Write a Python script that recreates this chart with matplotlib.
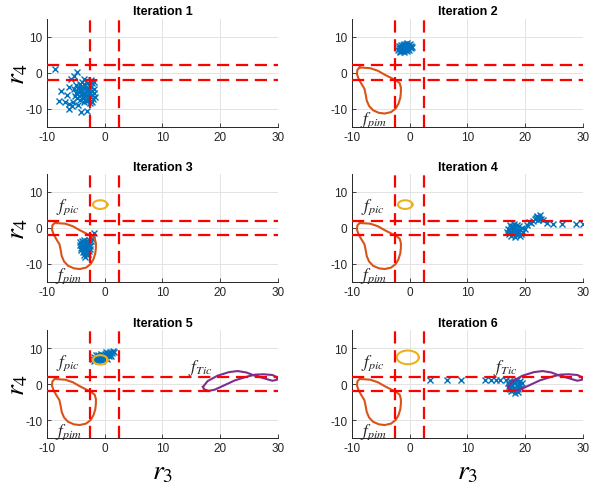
import matplotlib
matplotlib.use("Agg")
import matplotlib.pyplot as plt
import numpy as np

plt.rcParams['font.family'] = ['Liberation Sans', 'DejaVu Sans']
plt.rcParams['mathtext.fontset'] = 'stix'
plt.rcParams['axes.unicode_minus'] = False

# ---------------- data ----------------
titles = ["Iteration 1", "Iteration 2", "Iteration 3", "Iteration 4", "Iteration 5", "Iteration 6"]
x_ticks = [-10, 0, 10, 20, 30]
y_ticks = [-10, 0, 10]
thr_r3 = [-2.5, 2.5]
thr_r4 = [-2.0, 2.0]

# estimated samples of each iteration (r3, r4)
it1_x = [-4.3, -3.9, -3.5, -3.0, -2.6, -2.1, -1.8, -4.6, -4.1, -3.7, -3.2, -2.8, -2.3, -1.9,
         -4.4, -4.0, -3.6, -3.1, -2.7, -2.2, -1.8, -4.5, -3.9, -3.4, -3.0, -2.5, -2.1, -1.7,
         -4.2, -3.8, -3.3, -2.9, -2.4, -2.0, -3.6, -3.1, -2.6, -2.2, -5.0, -5.2, -4.8, -5.1,
         -3.5, -2.4, -4.9, -2.9, -3.4, -2.6, -3.7, -4.1,
         -8.6, -4.8, -5.8, -5.3, -7.5, -6.2, -6.5, -7.8, -6.8, -6.2, -6.1, -4.1, -3.0, -5.6, -5.4, -4.6]
it1_y = [-3.1, -2.6, -3.3, -2.8, -3.4, -3.0, -2.5, -4.2, -3.9, -4.4, -4.0, -4.6, -4.1, -4.5,
         -5.3, -5.0, -5.6, -5.2, -5.5, -5.1, -5.6, -6.4, -6.1, -6.6, -6.2, -6.7, -6.3, -6.8,
         -7.5, -7.2, -7.7, -7.3, -7.8, -7.4, -8.3, -8.0, -8.4, -8.1, -5.8, -4.5, -7.0, -6.6,
         -1.8, -2.0, -3.5, -4.9, -5.9, -6.0, -6.9, -4.7,
         0.9, 0.1, -1.7, -1.0, -5.1, -4.0, -6.2, -7.9, -8.3, -8.8, -10.2, -11.0, -10.8, -9.3, -8.1, -9.0]

it2_x = [-2.0, -1.7, -1.3, -0.9, -0.5, -0.1, -1.9, -1.5, -1.1, -0.7, -0.3, 0.2, 0.5,
         -1.8, -1.4, -1.0, -0.6, -0.2, 0.3, -1.5, -1.1, -0.7, -0.3, -0.9, -0.5, 0.0,
         -1.2, -0.8, -1.6, -0.4, 0.1]
it2_y = [6.2, 5.7, 5.9, 5.8, 6.0, 6.3, 6.8, 6.5, 6.4, 6.6, 6.5, 6.8, 7.0,
         7.3, 7.1, 7.0, 7.2, 7.0, 7.4, 7.7, 7.6, 7.8, 7.6, 8.0, 8.1, 7.9,
         6.9, 6.2, 6.0, 6.9, 7.2]

it3_x = [-4.2, -3.9, -3.5, -3.1, -2.7, -2.4, -2.1, -1.8, -4.3, -3.9, -3.5, -3.1, -2.7, -2.4,
         -4.1, -3.7, -3.3, -2.9, -2.6, -4.0, -3.6, -3.2, -2.8, -2.5, -3.8, -3.4, -3.0, -2.7,
         -3.5, -3.1, -2.8, -3.3, -3.7, -3.0, -3.4, -2.9, -2.2]
it3_y = [-4.0, -3.6, -3.4, -3.5, -3.2, -2.6, -2.0, -1.5, -4.8, -4.5, -4.2, -4.4, -4.0, -3.6,
         -5.5, -5.2, -5.0, -5.3, -4.9, -6.2, -6.0, -5.8, -6.1, -5.7, -6.8, -6.6, -6.9, -6.5,
         -7.4, -7.6, -7.2, -8.0, -3.9, -4.7, -5.6, -3.9, -3.0]

it4_x = [17.0, 17.3, 17.5, 17.2, 17.6, 17.9, 17.8, 18.1, 18.2, 18.4, 18.5, 18.7, 18.9, 19.0,
         19.2, 19.4, 19.6, 19.9, 17.4, 18.0, 18.6, 16.9, 18.3, 19.1, 17.7, 18.8, 18.4, 17.9,
         20.3, 20.6, 21.0, 21.3, 21.6, 21.9, 22.1, 22.3, 22.5, 22.2, 22.7, 22.0, 23.0,
         23.8, 24.7, 26.4, 28.7, 29.9]
it4_y = [-0.3, -1.0, 0.2, -1.8, -2.3, -1.5, -0.6, 0.4, -0.9, -2.0, -0.2, -1.3, 0.5, -0.6,
         -1.8, 0.0, -1.0, -0.4, 0.8, 1.0, 0.9, -1.2, -2.5, -2.3, -0.1, -0.9, -1.4, 0.6,
         0.9, 1.6, 1.4, 2.0, 2.4, 2.7, 3.3, 2.9, 3.5, 2.2, 2.6, 3.0, 2.1,
         1.4, 1.1, 1.1, 1.1, 1.1]

it5_x = [-2.0, -1.8, -1.6, -1.4, -1.2, -1.1, -0.9, -0.8, -0.6, -0.5, -0.3, -0.2, 0.0, 0.1,
         0.3, 0.4, 0.6, 0.7, 0.9, 1.0, 1.2, 1.4, 1.6, -1.5, -0.7, 0.2, -1.9, -0.4, 0.5, 1.1]
it5_y = [7.0, 7.6, 6.6, 7.3, 8.0, 6.4, 7.0, 7.8, 6.6, 7.4, 8.1, 6.9, 7.6, 8.4,
         7.2, 8.0, 8.6, 7.7, 8.3, 9.0, 8.5, 9.2, 8.9, 8.1, 8.4, 8.9, 6.5, 6.3, 7.0, 7.9]

it6_x = [17.0, 17.2, 17.4, 17.3, 17.6, 17.7, 17.9, 18.0, 18.2, 18.3, 18.5, 18.6, 18.8, 18.9,
         19.1, 19.3, 19.5, 17.8, 18.4, 17.5, 18.7, 19.0, 17.1, 18.1,
         3.6, 6.5, 8.9, 13.1, 14.0, 14.9, 15.7, 16.6]
it6_y = [0.3, -0.5, 0.9, -1.4, -2.0, -0.2, 0.6, -1.0, -2.4, 0.2, -0.6, 1.0, -1.5, 0.4,
         -0.3, -1.0, 0.2, -1.6, -1.8, 0.0, -2.2, 0.8, -1.0, 0.9,
         1.2, 1.2, 1.2, 1.2, 1.2, 1.2, 1.2, 1.2]

samples_x = [it1_x, it2_x, it3_x, it4_x, it5_x, it6_x]
samples_y = [it1_y, it2_y, it3_y, it4_y, it5_y, it6_y]

# contour f_pim (closed curve)
pim_x = [-8.6, -6.8, -5.5, -4.3, -3.2, -2.3, -1.7, -1.5, -1.5, -1.6, -1.9, -2.4, -3.2, -4.3,
         -5.3, -6.3, -7.0, -7.4, -7.6, -7.8, -8.3, -8.8, -9.1, -9.0, -8.6]
pim_y = [1.4, 1.2, 0.5, -0.6, -1.5, -2.2, -3.0, -4.2, -5.5, -7.0, -8.6, -10.0, -11.0, -11.4,
         -11.2, -10.5, -9.3, -7.8, -6.0, -4.5, -3.2, -1.8, -0.4, 0.8, 1.4]

# contour f_pic: centre / semi-axes per iteration (small for 3-5, larger for 6)
pic_cx = [None, None, -0.75, -0.75, -0.75, -0.3]
pic_cy = [None, None, 6.5, 6.5, 6.7, 7.4]
pic_ax = [None, None, 1.25, 1.25, 1.25, 1.9]
pic_ay = [None, None, 1.2, 1.2, 1.3, 1.9]

# contour f_Tic (twisted closed loop)
tic_x = [17.0, 17.8, 19.5, 21.5, 23.0, 24.5, 25.8, 27.5, 29.0, 29.8, 29.8, 29.0, 27.5, 26.0,
         24.5, 22.5, 20.5, 19.0, 18.0, 17.2, 17.0]
tic_y = [-0.8, 0.8, 2.3, 3.3, 3.6, 3.2, 2.4, 1.6, 0.9, 1.2, 1.9, 2.5, 2.7, 2.6,
         2.0, 1.0, -0.5, -1.6, -1.9, -1.5, -0.8]

show_pim = [False, True, True, True, True, True]
show_pic = [False, False, True, True, True, True]
show_tic = [False, False, False, False, True, True]

# ---------------- figure ----------------
fig = plt.figure(figsize=(5.89, 4.89), dpi=100)
lefts = [46.7 / 589, 351.7 / 589]
bottoms = [1 - 127.5 / 489, 1 - 283 / 489, 1 - 439 / 489]
w = 231.5 / 589
h = 108 / 489

blue = '#0072BD'
orange = '#D95319'
yellow = '#EDB120'
purple = '#7E2F8E'
tc = '#262626'

t = np.linspace(0, 2 * np.pi, 100)

for i in range(6):
    r, c = divmod(i, 2)
    ax = fig.add_axes([lefts[c], bottoms[r], w, h])
    ax.set_xlim(-10, 30)
    ax.set_ylim(-15, 15)
    ax.set_xticks(x_ticks)
    ax.set_yticks(y_ticks)
    ax.grid(True, color='#e3e3e3', linewidth=0.7)
    ax.set_axisbelow(True)
    for s in ['top', 'right']:
        ax.spines[s].set_visible(False)
    for s in ['left', 'bottom']:
        ax.spines[s].set_color(tc)
        ax.spines[s].set_linewidth(0.7)
    ax.tick_params(direction='in', length=3, width=0.6, colors=tc, labelsize=8.5, pad=3)
    ax.set_title(titles[i], fontsize=9, fontweight='bold', pad=3)

    ax.plot(samples_x[i], samples_y[i], linestyle='none', marker='x', color=blue,
            markersize=5, markeredgewidth=1.0, zorder=2)

    if show_pim[i]:
        ax.plot(pim_x, pim_y, color=orange, lw=1.5, zorder=3)
        ax.text(-8.5, -13.0, r'$f_{pim}$', fontsize=12.5, ha='left', va='center', color=tc)
    if show_pic[i]:
        ax.plot(pic_cx[i] + pic_ax[i] * np.cos(t), pic_cy[i] + pic_ay[i] * np.sin(t),
                color=yellow, lw=1.5, zorder=3)
        ax.text(-8.4, 6.0, r'$f_{pic}$', fontsize=12.5, ha='left', va='center', color=tc)
    if show_tic[i]:
        ax.plot(tic_x, tic_y, color=purple, lw=1.5, zorder=3)
        ax.text(14.4, 4.6, r'$f_{Tic}$', fontsize=12.5, ha='left', va='center', color=tc)

    for xv in thr_r3:
        ax.axvline(xv, color='#ff0000', lw=1.6, dashes=(5.5, 3), zorder=4)
    for yv in thr_r4:
        ax.axhline(yv, color='#ff0000', lw=1.6, dashes=(5.5, 3), zorder=4)

    if c == 0:
        fig.text(17 / 589, 1 - ((bottoms[r] + h / 2) and (1 - (bottoms[r] + h / 2))),
                 r'$r_4$', fontsize=20, rotation=90, ha='center', va='center')
    if r == 2:
        fig.text(lefts[c] + w / 2, 1 - 472 / 489, r'$r_3$', fontsize=20,
                 ha='center', va='center')

fig.savefig('out.png', dpi=100)
